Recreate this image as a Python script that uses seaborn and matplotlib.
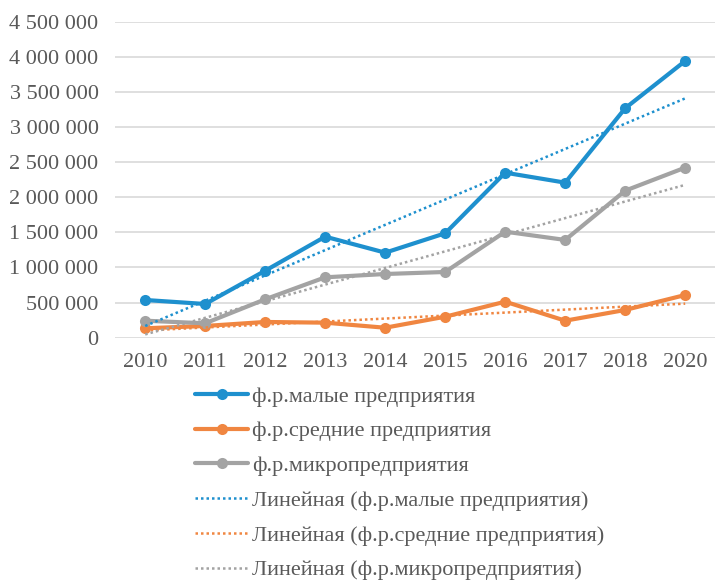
import matplotlib
matplotlib.use("Agg")
import matplotlib.pyplot as plt
import matplotlib.ticker as mticker
import seaborn as sns
import pandas as pd
import numpy as np

# ── Data ─────────────────────────────────────────────────────
years = ["2010", "2011", "2012", "2013", "2014", "2015", "2016", "2017", "2018", "2020"]
small = [537000, 480000, 954000, 1439000, 1211000, 1487000, 2350000, 2208000, 3268000, 3941000]
medium = [134000, 167000, 224000, 214000, 142000, 299000, 513000, 242000, 395000, 608000]
micro = [242000, 205000, 547000, 860000, 907000, 936000, 1510000, 1392000, 2094000, 2422000]

names = ["ф.р.малые предприятия", "ф.р.средние предприятия", "ф.р.микропредприятия"]
colors = ["#1E90CE", "#F08641", "#A3A3A3"]

# ── Style ────────────────────────────────────────────────────
sns.set_theme(style="white")
plt.rcParams["font.family"] = ["Liberation Serif", "DejaVu Serif"]
text_color = "#595959"
fsize = 16

fig = plt.figure(figsize=(7.2, 5.81), dpi=100)
ax = fig.add_axes([0.16, 1 - 337.7 / 581, 600 / 720, 316 / 581])

pos = np.arange(len(years))
series = [small, medium, micro]

for name, vals, c in zip(names, series, colors):
    df = pd.DataFrame({"x": pos, "y": vals})
    sns.lineplot(data=df, x="x", y="y", ax=ax, color=c, linewidth=3,
                 marker="o", markersize=8, markeredgewidth=0, label=name)

# linear trendlines (least squares over category positions, as Excel does)
for name, vals, c in zip(names, series, colors):
    k, b = np.polyfit(pos, vals, 1)
    trend = pd.DataFrame({"x": pos, "y": k * pos + b})
    sns.lineplot(data=trend, x="x", y="y", ax=ax, color=c, linewidth=1.8,
                 linestyle=(0, (1, 1.2)), label=f"Линейная ({name})")

ax.set_xlim(-0.5, len(years) - 0.5)
ax.set_ylim(0, 4500000)
ax.set_xticks(pos)
ax.set_xticklabels(years)
ax.yaxis.set_major_locator(mticker.MultipleLocator(500000))
ax.yaxis.set_major_formatter(mticker.FuncFormatter(lambda v, p: f"{int(v):,}".replace(",", " ")))
ax.tick_params(axis="both", length=0, labelsize=fsize, labelcolor=text_color)
ax.tick_params(axis="x", pad=11)
ax.tick_params(axis="y", pad=12)
ax.set_xlabel("")
ax.set_ylabel("")
ax.grid(axis="y", color="#D9D9D9", linewidth=1.2)
ax.set_axisbelow(True)
for s in ax.spines.values():
    s.set_visible(False)

handles, labels = ax.get_legend_handles_labels()
ax.get_legend().remove()
fig.legend(handles, labels, loc="upper left", bbox_to_anchor=(195 / 720, 1 - 386 / 581),
           frameon=False, fontsize=fsize, labelcolor=text_color, handlelength=2.4,
           handletextpad=0.15, labelspacing=0.64, borderpad=0, borderaxespad=0)

plt.savefig("out.png", dpi=100)
